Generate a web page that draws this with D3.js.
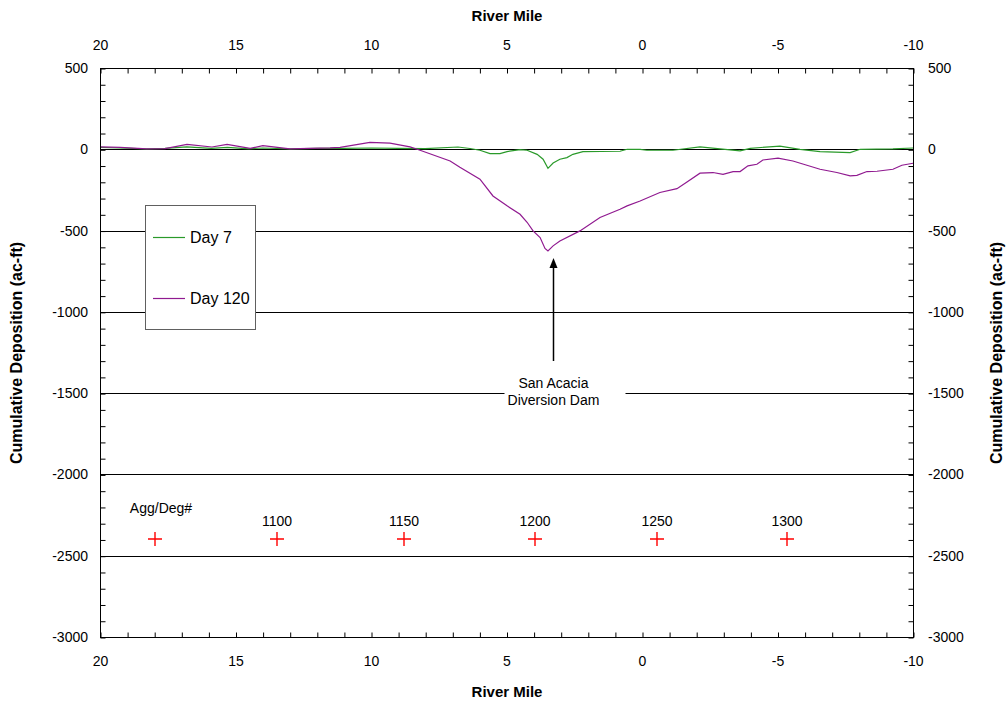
<!DOCTYPE html>
<html>
    <head>
        <meta http-equiv="Content-Type" content="text/html; charset=UTF-8">
        <script src="https://d3js.org/d3.v7.min.js"></script>
        <style>
            html, body {
                margin: 0;
                background-color: white;
            }
            svg {
                font-family: 'Liberation Sans', Arial, sans-serif;
                display: block;
            }
        </style>
        <title>Cumulative Deposition</title>
    </head>
    <body>
        <script>
            // Day 7 cumulative deposition (river mile, ac-ft)
            var day7Miles = [20, 19.3, 18.3, 17.6, 16.8, 15.9, 15.3, 14.5, 14.0, 13, 12, 11, 10, 9, 8, 6.79, 6.35, 5.98, 5.61, 5.24, 4.98, 4.5, 4.24, 3.87, 3.65, 3.47, 3.28, 3.03, 2.77, 2.55, 2.18, 0.81, 0.55, 0.07, -0.18, -1.14, -2.14, -2.88, -3.62, -3.99, -5.09, -5.83, -6.57, -7.68, -8.05, -9.26, -10];
            var day7Values = [12, 8, 2, 5, 15, 5, 12, 3, 8, 2, 5, 6, 8, 6, 4, 14, 5, -6, -27, -27, -14, -2, -6, -31, -61, -117, -85, -61, -51, -31, -14, -12, 0, 0, -6, -6, 15, 2, -10, 6, 20, 0, -14, -20, 0, 2, 8];

            // Day 120
            var day120Miles = [20, 19.26, 18.27, 17.6, 16.79, 15.87, 15.31, 14.46, 13.99, 12.99, 11.51, 11.14, 10.04, 9.3, 8.56, 8.19, 7.08, 6.72, 5.98, 5.5, 4.98, 4.5, 4.24, 4.02, 3.76, 3.58, 3.47, 3.28, 3.03, 2.29, 1.55, 0.81, 0.55, 0.07, -0.66, -1.29, -1.66, -2.14, -2.62, -2.99, -3.36, -3.62, -3.91, -4.24, -4.46, -5.02, -5.57, -6.57, -7.19, -7.68, -7.93, -8.3, -8.67, -9.26, -9.59, -10];
            var day120Values = [15, 12, 2, 4, 30, 14, 30, 6, 22, 3, 9, 12, 42, 38, 15, -6, -72, -110, -184, -287, -348, -400, -449, -502, -543, -610, -625, -594, -564, -502, -420, -369, -348, -318, -266, -242, -201, -147, -143, -154, -137, -137, -102, -92, -66, -55, -72, -123, -143, -164, -160, -137, -135, -123, -98, -86];

            // Agg/Deg markers
            var aggMiles = [17.97, 13.47, 8.78, 3.95, -0.55, -5.35];
            var aggLabels = ["Agg/Deg#", "1100", "1150", "1200", "1250", "1300"];
            var aggLevel = -2400;

            var xTicks = [20, 15, 10, 5, 0, -5, -10];
            var yTicks = [500, 0, -500, -1000, -1500, -2000, -2500, -3000];
            var gridValues = [0, -500, -1000, -1500, -2000, -2500];

            var damMile = 3.3;
            var damLabel = ["San Acacia", "Diversion Dam"];

            var ww = 1008, hh = 702;
            var pLeft = 100, pRight = 913, pTop = 68, pBottom = 637;
            var green = "#2a9a2a", purple = "#901a90";

            var svg = d3.select("body").append("svg").attr("width", ww).attr("height", hh);

            var x = d3.scaleLinear().domain([20, -10]).range([pLeft, pRight]);
            var y = d3.scaleLinear().domain([500, -3000]).range([pTop, pBottom]);

            // gridlines
            svg.append("g").selectAll("line").data(gridValues).enter().append("line")
                .attr("x1", pLeft).attr("x2", pRight)
                .attr("y1", function(d) { return Math.round(y(d)) + 0.5; })
                .attr("y2", function(d) { return Math.round(y(d)) + 0.5; })
                .attr("stroke", "black").attr("stroke-width", 1);

            function series(miles, vals) {
                return miles.map(function(m, i) { return {m: m, v: vals[i]}; });
            }
            var line = d3.line().x(function(d) { return x(d.m); }).y(function(d) { return y(d.v); });

            svg.append("path").datum(series(day7Miles, day7Values))
                .attr("d", line).attr("fill", "none").attr("stroke", green).attr("stroke-width", 1.2);
            svg.append("path").datum(series(day120Miles, day120Values))
                .attr("d", line).attr("fill", "none").attr("stroke", purple).attr("stroke-width", 1.2);

            // agg/deg crosses and labels
            var agg = svg.append("g").selectAll("g").data(aggMiles).enter().append("g")
                .attr("transform", function(d) { return "translate(" + Math.round(x(d)) + "," + Math.round(y(aggLevel)) + ")"; });
            agg.append("path").attr("d", "M-7,0H7M0,-7V7").attr("stroke", "#ff0000").attr("stroke-width", 1.4).attr("fill", "none");
            agg.append("text").text(function(d, i) { return aggLabels[i]; })
                .attr("text-anchor", "middle")
                .attr("x", function(d, i) { return i == 0 ? 6 : 0; })
                .attr("y", function(d, i) { return i == 0 ? -26 : -13; })
                .style("font-size", "14px");

            // annotation for the dam
            var dx = Math.round(x(damMile)) + 0.5;
            svg.append("rect").attr("x", dx - 49).attr("y", 370).attr("width", 121).attr("height", 40).attr("fill", "white");
            svg.append("text").attr("x", dx).attr("y", 388).attr("text-anchor", "middle").style("font-size", "14px").text(damLabel[0]);
            svg.append("text").attr("x", dx).attr("y", 405).attr("text-anchor", "middle").style("font-size", "14px").text(damLabel[1]);
            svg.append("line").attr("x1", dx).attr("x2", dx).attr("y1", 361).attr("y2", 268).attr("stroke", "black").attr("stroke-width", 1.5);
            svg.append("path").attr("d", "M" + dx + ",258L" + (dx - 4) + ",268L" + (dx + 4) + ",268Z").attr("fill", "black");

            // frame
            svg.append("rect").attr("x", pLeft + 0.5).attr("y", pTop + 0.5).attr("width", pRight - pLeft).attr("height", pBottom - pTop)
                .attr("fill", "none").attr("stroke", "black").attr("stroke-width", 1);

            // minor ticks
            var minorX = d3.range(-10, 21, 1), minorY = d3.range(-3000, 501, 100);
            function minor(axis, vals, tx, ty) {
                svg.append("g").attr("transform", "translate(" + tx + "," + ty + ")")
                    .call(axis.tickValues(vals).tickFormat("").tickSizeOuter(0).tickSizeInner(-5))
                    .call(function(g) { g.select(".domain").remove(); });
            }
            minor(d3.axisTop(x), minorX, 0.5, pTop + 0.5);
            minor(d3.axisBottom(x), minorX, 0.5, pBottom + 0.5);
            minor(d3.axisLeft(y), minorY, pLeft + 0.5, 0.5);
            minor(d3.axisRight(y), minorY, pRight + 0.5, 0.5);

            // labelled axes
            function labelled(axis, vals, pad, tx, ty) {
                var g = svg.append("g").attr("transform", "translate(" + tx + "," + ty + ")")
                    .call(axis.tickValues(vals).tickFormat(function(d) { return String(d); }).tickSizeOuter(0).tickSizeInner(0).tickPadding(pad));
                g.select(".domain").remove();
                g.selectAll("text").style("font-size", "14px").attr("fill", "black").style("font-family", "'Liberation Sans', Arial, sans-serif");
                return g;
            }
            labelled(d3.axisTop(x), xTicks, 18, 0, pTop);
            labelled(d3.axisBottom(x), xTicks, 19, 0, pBottom);
            labelled(d3.axisLeft(y), yTicks, 12, pLeft, 0);
            labelled(d3.axisRight(y), yTicks, 15, pRight, 0);

            // axis titles
            svg.append("text").attr("x", 507).attr("y", 21).attr("text-anchor", "middle")
                .style("font-size", "15px").style("font-weight", "bold").text("River Mile");
            svg.append("text").attr("x", 507).attr("y", 697).attr("text-anchor", "middle")
                .style("font-size", "15px").style("font-weight", "bold").text("River Mile");
            svg.append("text").attr("transform", "translate(22,353) rotate(-90)").attr("text-anchor", "middle")
                .style("font-size", "16px").style("font-weight", "bold").text("Cumulative Deposition (ac-ft)");
            svg.append("text").attr("transform", "translate(1002,353) rotate(-90)").attr("text-anchor", "middle")
                .style("font-size", "16px").style("font-weight", "bold").text("Cumulative Deposition (ac-ft)");

            // legend
            var legend = svg.append("g");
            legend.append("rect").attr("x", 145.5).attr("y", 205.5).attr("width", 110).attr("height", 124)
                .attr("fill", "white").attr("stroke", "#606060").attr("stroke-width", 1);
            var legItems = [{name: "Day 7", color: green, y: 237}, {name: "Day 120", color: purple, y: 298}];
            legItems.forEach(function(d) {
                legend.append("line").attr("x1", 153).attr("x2", 185).attr("y1", d.y + 0.5).attr("y2", d.y + 0.5)
                    .attr("stroke", d.color).attr("stroke-width", 1.2);
                legend.append("text").attr("x", 190).attr("y", d.y + 6).style("font-size", "16px").text(d.name);
            });
        </script>
    </body>
</html>
